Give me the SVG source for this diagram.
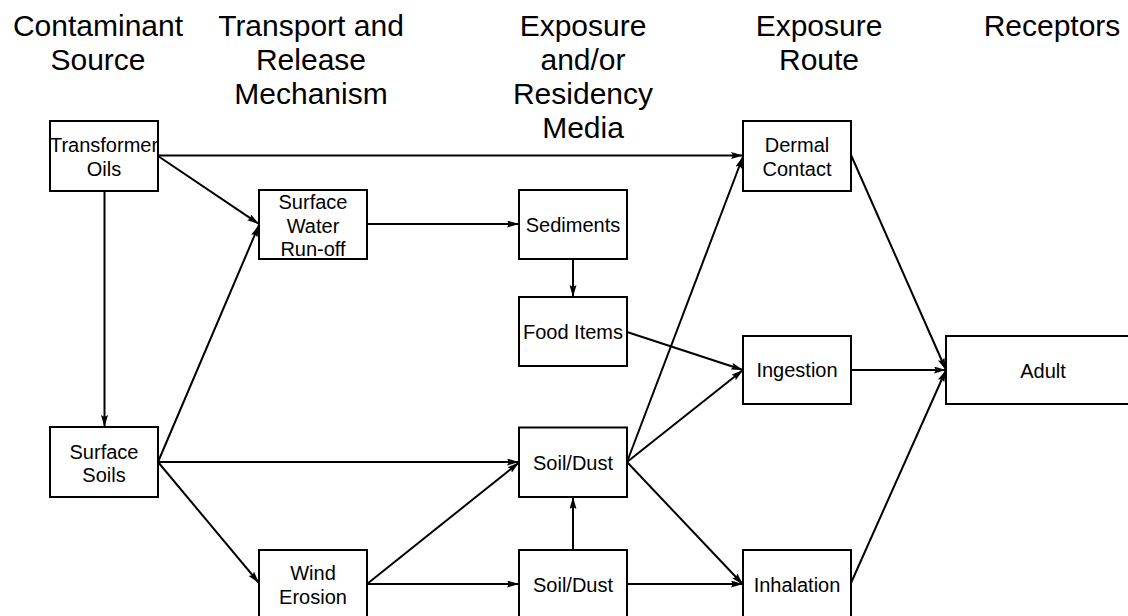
<svg xmlns="http://www.w3.org/2000/svg" width="1128" height="616" viewBox="0 0 1128 616">
<style>
.hdr{font-family:"Liberation Sans",Arial,sans-serif;font-size:30px;fill:#000;text-anchor:middle}
.lbl{font-family:"Liberation Sans",Arial,sans-serif;font-size:20px;fill:#000;text-anchor:middle}
.box{fill:#fff;stroke:#000;stroke-width:2}
.con{fill:none;stroke:#000;stroke-width:2;marker-end:url(#arr)}
</style>
<defs>
<marker id="arr" markerUnits="userSpaceOnUse" markerWidth="14" markerHeight="8" refX="12" refY="3.5" orient="auto">
<path d="M0,0 L12,3.5 L0,7 L2,3.5 z" fill="#000"/>
</marker>
</defs>
<rect width="1128" height="616" fill="#fff"/>
<g id="headers">
<text class="hdr" x="98" y="36">Contaminant</text>
<text class="hdr" x="98" y="70">Source</text>
<text class="hdr" x="311" y="36">Transport and</text>
<text class="hdr" x="311" y="70">Release</text>
<text class="hdr" x="311" y="104">Mechanism</text>
<text class="hdr" x="583" y="36">Exposure</text>
<text class="hdr" x="583" y="70">and/or</text>
<text class="hdr" x="583" y="104">Residency</text>
<text class="hdr" x="583" y="137.5">Media</text>
<text class="hdr" x="819" y="36">Exposure</text>
<text class="hdr" x="819" y="70">Route</text>
<text class="hdr" x="1052" y="36">Receptors</text>
</g>
<g id="connectors">
<line class="con" x1="158" y1="155.5" x2="743" y2="155.5"/>
<line class="con" x1="158" y1="156" x2="259" y2="224"/>
<line class="con" x1="104.5" y1="191" x2="104.5" y2="427"/>
<line class="con" x1="158" y1="462" x2="259" y2="225"/>
<line class="con" x1="158" y1="462" x2="519" y2="462"/>
<line class="con" x1="158" y1="462" x2="259" y2="583"/>
<line class="con" x1="367" y1="584" x2="519" y2="462.5"/>
<line class="con" x1="367" y1="584" x2="519" y2="584"/>
<line class="con" x1="573" y1="550" x2="573" y2="497"/>
<line class="con" x1="367" y1="224" x2="519" y2="224"/>
<line class="con" x1="573" y1="259" x2="573" y2="297"/>
<line class="con" x1="627" y1="332" x2="743" y2="370"/>
<line class="con" x1="627" y1="462" x2="743" y2="156.5"/>
<line class="con" x1="627" y1="462" x2="743" y2="370"/>
<line class="con" x1="627" y1="462" x2="743" y2="584.5"/>
<line class="con" x1="627" y1="584" x2="743" y2="584"/>
<line class="con" x1="851" y1="155" x2="946" y2="370"/>
<line class="con" x1="851" y1="370" x2="946" y2="370"/>
<line class="con" x1="851" y1="583" x2="946" y2="370"/>
</g>
<g id="transformer-oils">
<rect class="box" x="50" y="121" width="108" height="70"/>
<text class="lbl" x="104" y="151.5">Transformer</text>
<text class="lbl" x="104" y="175.5">Oils</text>
</g>
<g id="surface-soils">
<rect class="box" x="50" y="427" width="108" height="70"/>
<text class="lbl" x="104" y="458.5">Surface</text>
<text class="lbl" x="104" y="482">Soils</text>
</g>
<g id="surface-water-runoff">
<rect class="box" x="259" y="190" width="108" height="69"/>
<text class="lbl" x="313" y="209">Surface</text>
<text class="lbl" x="313" y="232.5">Water</text>
<text class="lbl" x="313" y="256">Run-off</text>
</g>
<g id="wind-erosion">
<rect class="box" x="259" y="550" width="108" height="69"/>
<text class="lbl" x="313" y="580">Wind</text>
<text class="lbl" x="313" y="604">Erosion</text>
</g>
<g id="sediments">
<rect class="box" x="519" y="190" width="108" height="69"/>
<text class="lbl" x="573" y="232">Sediments</text>
</g>
<g id="food-items">
<rect class="box" x="519" y="297" width="108" height="69"/>
<text class="lbl" x="573" y="339">Food Items</text>
</g>
<g id="soil-dust-upper">
<rect class="box" x="519" y="427.5" width="108" height="69.5"/>
<text class="lbl" x="573" y="469.5">Soil/Dust</text>
</g>
<g id="soil-dust-lower">
<rect class="box" x="519" y="550" width="108" height="69"/>
<text class="lbl" x="573" y="592">Soil/Dust</text>
</g>
<g id="dermal-contact">
<rect class="box" x="743" y="121" width="108" height="70"/>
<text class="lbl" x="797" y="151.5">Dermal</text>
<text class="lbl" x="797" y="175.5">Contact</text>
</g>
<g id="ingestion">
<rect class="box" x="743" y="336" width="108" height="68"/>
<text class="lbl" x="797" y="377">Ingestion</text>
</g>
<g id="inhalation">
<rect class="box" x="743" y="550" width="108" height="69"/>
<text class="lbl" x="797" y="592">Inhalation</text>
</g>
<g id="adult">
<rect class="box" x="946" y="336" width="200" height="68"/>
<text class="lbl" x="1043" y="377.5">Adult</text>
</g>
</svg>
